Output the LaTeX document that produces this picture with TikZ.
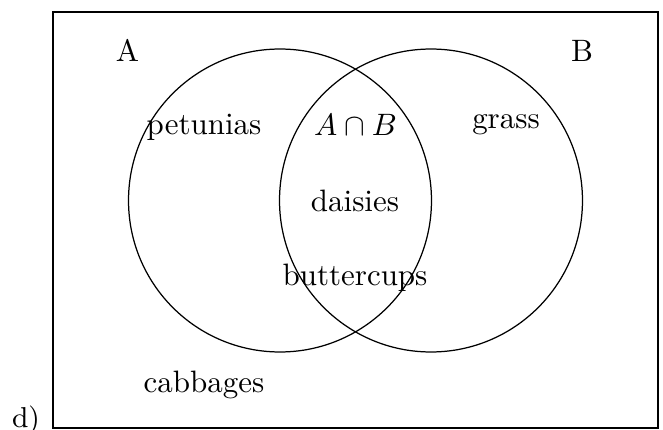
\documentclass[tikz,border=0pt]{standalone}
\usepackage{amssymb}
\begin{document}
\begin{tikzpicture}[x=0.323pt,y=-0.323pt,
  lbl/.style={anchor=base,inner sep=0pt,font=\fontsize{10}{12}\selectfont},
  setcirc/.style={draw,line width=0.4pt}]
\useasboundingbox (0,0) rectangle (663,430);
\draw[line width=0.4pt] (53,12) rectangle (658,428);
\draw[setcirc] (280,200.5) circle[radius=48.93pt];
\draw[setcirc] (431,200.5) circle[radius=48.93pt];
\node[lbl] (la) at (127.5,62) {A};
\node[lbl] (lb) at (582,61) {B};
\node[lbl] (pet) at (204,135) {petunias};
\node[lbl] (ab) at (355.5,135.7) {$A\cap B$};
\node[lbl] (gr) at (506,128.3) {grass};
\node[lbl] (dai) at (355,211.7) {daisies};
\node[lbl] (but) at (355,285) {buttercups};
\node[lbl] (cab) at (204,392) {cabbages};
\node[lbl,font=\fontsize{9.3}{11}\selectfont] (d) at (26,428) {d)};
\end{tikzpicture}
\end{document}
